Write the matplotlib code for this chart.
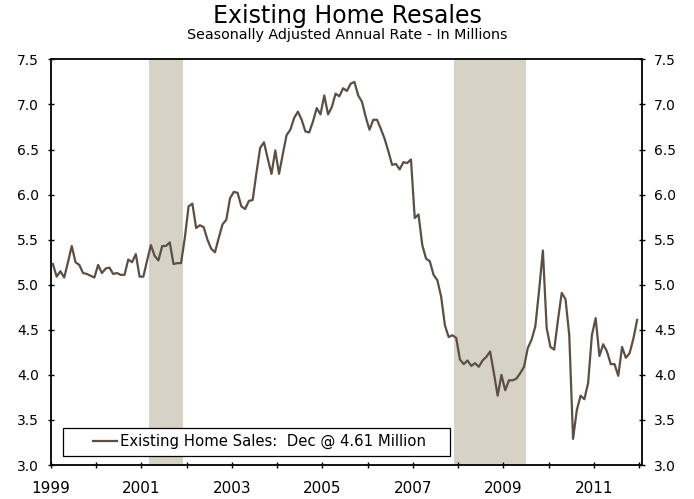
import matplotlib
matplotlib.use("Agg")
import matplotlib.pyplot as plt
from matplotlib.patches import Rectangle
import numpy as np
import pandas as pd

# existing home sales, SAAR in millions, Jan 1999 - Dec 2011
months = pd.period_range("1999-01", "2011-12", freq="M")
sales = [
    5.23, 5.09, 5.15, 5.08, 5.25, 5.43, 5.25, 5.22, 5.13, 5.12, 5.10, 5.08,  # 1999
    5.22, 5.13, 5.18, 5.19, 5.12, 5.13, 5.11, 5.11, 5.28, 5.25, 5.34, 5.09,  # 2000
    5.09, 5.27, 5.44, 5.32, 5.27, 5.43, 5.43, 5.47, 5.23, 5.24, 5.24, 5.52,  # 2001
    5.87, 5.90, 5.63, 5.66, 5.64, 5.50, 5.40, 5.36, 5.52, 5.67, 5.72, 5.96,  # 2002
    6.03, 6.02, 5.87, 5.84, 5.93, 5.94, 6.24, 6.52, 6.58, 6.40, 6.23, 6.49,  # 2003
    6.23, 6.45, 6.66, 6.72, 6.85, 6.92, 6.83, 6.70, 6.69, 6.81, 6.96, 6.89,  # 2004
    7.10, 6.89, 6.97, 7.12, 7.09, 7.18, 7.15, 7.23, 7.25, 7.10, 7.03, 6.86,  # 2005
    6.72, 6.83, 6.83, 6.73, 6.62, 6.48, 6.33, 6.34, 6.28, 6.36, 6.35, 6.39,  # 2006
    5.74, 5.78, 5.44, 5.29, 5.26, 5.11, 5.05, 4.87, 4.55, 4.42, 4.44, 4.41,  # 2007
    4.17, 4.12, 4.16, 4.10, 4.13, 4.09, 4.16, 4.20, 4.26, 4.02, 3.77, 4.00,  # 2008
    3.83, 3.94, 3.94, 3.96, 4.02, 4.09, 4.30, 4.39, 4.54, 4.94, 5.38, 4.52,  # 2009
    4.31, 4.28, 4.61, 4.91, 4.84, 4.44, 3.29, 3.61, 3.77, 3.73, 3.91, 4.44,  # 2010
    4.63, 4.21, 4.34, 4.26, 4.12, 4.12, 3.99, 4.31, 4.19, 4.24, 4.40, 4.61,  # 2011
]
recession_starts = ["2001-03", "2007-12"]
recession_ends = ["2001-11", "2009-06"]
year_labels = ["1999", "2001", "2003", "2005", "2007", "2009", "2011"]
y_ticks = [3.0, 3.5, 4.0, 4.5, 5.0, 5.5, 6.0, 6.5, 7.0, 7.5]

line_color = "#5b4f45"
shade_color = "#d6d2c6"

fig = plt.figure(figsize=(6.94, 4.99), dpi=100)
ax = fig.add_axes([0.0735, 0.068, 0.8516, 0.813])

x = np.arange(len(sales)) + 0.5
start = months[0]

for s, e in zip(recession_starts, recession_ends):
    x0 = (pd.Period(s, "M") - start).n
    x1 = (pd.Period(e, "M") - start).n + 1
    ax.axvspan(x0, x1, color=shade_color, lw=0, zorder=0)

ax.plot(x, sales, color=line_color, lw=1.6, zorder=3,
        label="Existing Home Sales:  Dec @ %.2f Million" % sales[-1])

ax.set_xlim(0, len(sales) + 0.8)
ax.set_ylim(3.0, 7.5)
ax.set_yticks(y_ticks)
ax.set_yticklabels(["%.1f" % v for v in y_ticks])
ax.set_xticks(np.arange(0, len(sales) + 1, 24))
ax.set_xticklabels(year_labels)
ax.set_xticks(np.arange(12, len(sales) + 1, 24), minor=True)

ax.tick_params(axis="x", which="both", direction="inout", length=5, width=1,
               labelsize=11, pad=9, colors="black")
ax.tick_params(axis="y", which="both", direction="inout", length=5, width=1,
               labelsize=10, pad=6, right=True, labelright=True)
for sp in ax.spines.values():
    sp.set_linewidth(1.3)
    sp.set_color("black")

# legend box
box = Rectangle((0.0197, 0.0235), 0.655, 0.068, transform=ax.transAxes,
                facecolor="white", edgecolor="black", lw=0.9, zorder=4)
ax.add_patch(box)
ax.legend(loc="center", bbox_to_anchor=(0.0197 + 0.655 / 2 + 0.005, 0.0235 + 0.034),
          frameon=False, fontsize=10.7, handlelength=1.6, handletextpad=0.2,
          borderpad=0.2).set_zorder(5)

fig.text(0.5, 1 - 16 / 499, "Existing Home Resales", ha="center", va="center",
         fontsize=17)
fig.text(0.5, 1 - 35 / 499, "Seasonally Adjusted Annual Rate - In Millions",
         ha="center", va="center", fontsize=10.3)

fig.savefig("out.png", dpi=100)
